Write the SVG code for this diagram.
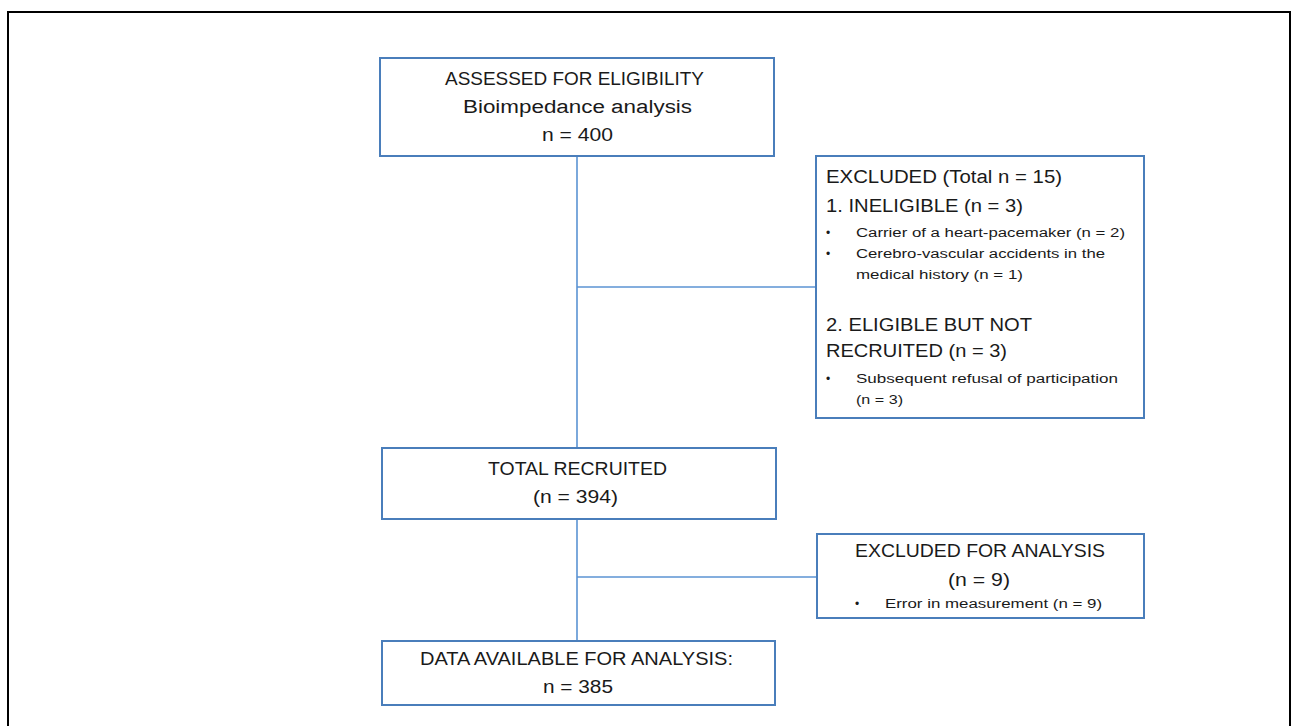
<svg xmlns="http://www.w3.org/2000/svg" width="1293" height="726" viewBox="0 0 1293 726">
<style>
  .box { fill: #ffffff; stroke: #4a7ebb; stroke-width: 2; }
  .conn { stroke: #5b93d3; stroke-width: 1.6; fill: none; }
  .t { font-family: "Liberation Sans", Arial, sans-serif; font-size: 18px; fill: #1a1a1a; }
  .s { font-family: "Liberation Sans", Arial, sans-serif; font-size: 12px; fill: #1a1a1a; }
  .frame { fill: none; stroke: #000000; stroke-width: 2; }
</style>
<rect x="0" y="0" width="1293" height="726" fill="#ffffff"/>
<rect class="frame" x="8" y="12" width="1282" height="730"/>
<g id="connectors">
  <line class="conn" x1="577" y1="156" x2="577" y2="448"/>
  <line class="conn" x1="577" y1="287" x2="816" y2="287"/>
  <line class="conn" x1="577" y1="519" x2="577" y2="641"/>
  <line class="conn" x1="577" y1="577" x2="817" y2="577"/>
</g>
<g id="assessed">
  <rect class="box" x="380" y="58" width="394" height="98"/>
  <text class="t" x="445" y="85" textLength="259" lengthAdjust="spacingAndGlyphs">ASSESSED FOR ELIGIBILITY</text>
  <text class="t" x="463" y="113" textLength="229" lengthAdjust="spacingAndGlyphs">Bioimpedance analysis</text>
  <text class="t" x="542" y="141" textLength="71" lengthAdjust="spacingAndGlyphs">n = 400</text>
</g>
<g id="excluded">
  <rect class="box" x="816" y="156" width="328" height="262"/>
  <text class="t" x="826" y="183" textLength="236" lengthAdjust="spacingAndGlyphs">EXCLUDED (Total n = 15)</text>
  <text class="t" x="826" y="212" textLength="197" lengthAdjust="spacingAndGlyphs">1. INELIGIBLE (n = 3)</text>
  <text class="s" x="826" y="237">•</text>
  <text class="s" x="856" y="237" textLength="269" lengthAdjust="spacingAndGlyphs">Carrier of a heart-pacemaker  (n = 2)</text>
  <text class="s" x="826" y="258">•</text>
  <text class="s" x="856" y="258" textLength="249" lengthAdjust="spacingAndGlyphs">Cerebro-vascular accidents in the</text>
  <text class="s" x="856" y="279" textLength="167" lengthAdjust="spacingAndGlyphs">medical history (n = 1)</text>
  <text class="t" x="826" y="331" textLength="206" lengthAdjust="spacingAndGlyphs">2. ELIGIBLE BUT NOT</text>
  <text class="t" x="826" y="357" textLength="181" lengthAdjust="spacingAndGlyphs">RECRUITED (n = 3)</text>
  <text class="s" x="826" y="383">•</text>
  <text class="s" x="856" y="383" textLength="262" lengthAdjust="spacingAndGlyphs">Subsequent refusal of participation</text>
  <text class="s" x="856" y="404" textLength="47" lengthAdjust="spacingAndGlyphs">(n = 3)</text>
</g>
<g id="recruited">
  <rect class="box" x="382" y="448" width="394" height="71"/>
  <text class="t" x="488" y="475" textLength="179" lengthAdjust="spacingAndGlyphs">TOTAL RECRUITED</text>
  <text class="t" x="533" y="503" textLength="85" lengthAdjust="spacingAndGlyphs">(n = 394)</text>
</g>
<g id="excluded-analysis">
  <rect class="box" x="817" y="534" width="327" height="84"/>
  <text class="t" x="855" y="557" textLength="250" lengthAdjust="spacingAndGlyphs">EXCLUDED FOR ANALYSIS</text>
  <text class="t" x="948" y="586" textLength="62" lengthAdjust="spacingAndGlyphs">(n = 9)</text>
  <text class="s" x="855" y="608">•</text>
  <text class="s" x="885" y="608" textLength="217" lengthAdjust="spacingAndGlyphs">Error in measurement  (n = 9)</text>
</g>
<g id="available">
  <rect class="box" x="382" y="641" width="393" height="64"/>
  <text class="t" x="420" y="665" textLength="313" lengthAdjust="spacingAndGlyphs">DATA AVAILABLE FOR ANALYSIS:</text>
  <text class="t" x="543" y="693" textLength="70" lengthAdjust="spacingAndGlyphs">n = 385</text>
</g>
</svg>
